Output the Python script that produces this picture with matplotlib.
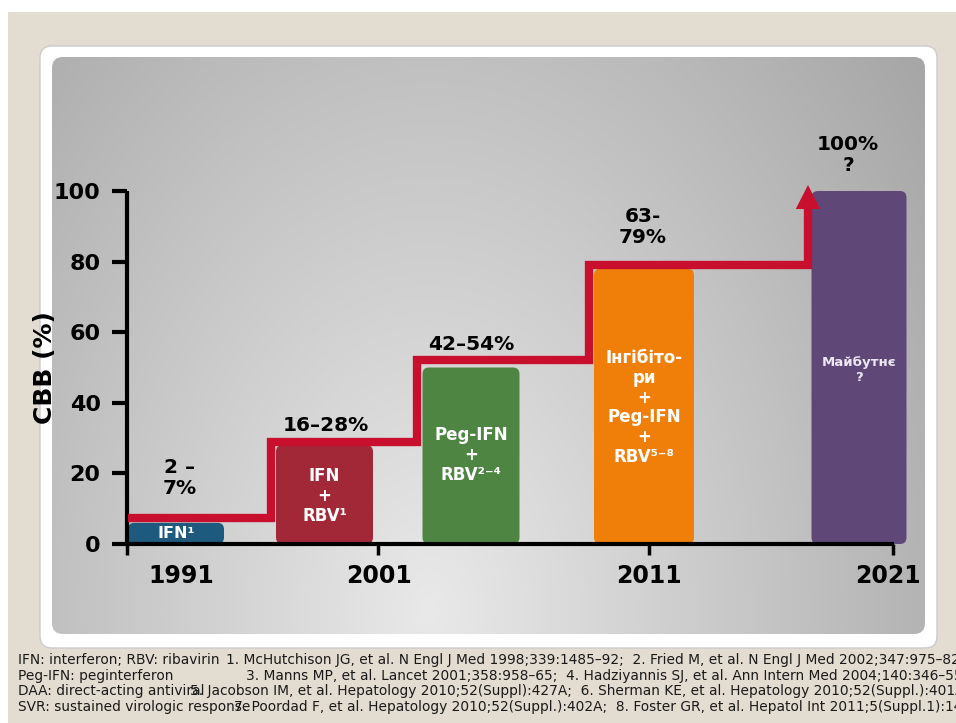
import numpy as np
import matplotlib.pyplot as plt
from matplotlib.patches import FancyBboxPatch, Rectangle

# --- data -------------------------------------------------------------
bar_labels = ['IFN¹', 'IFN\n+\nRBV¹', 'Peg-IFN\n+\nRBV²⁻⁴',
              'Інгібіто-\nри\n+\nPeg-IFN\n+\nRBV⁵⁻⁸', 'Майбутнє\n?']
bar_values = [6, 28, 50, 78, 100]
bar_colors = ['#1e5a7d', '#a22838', '#4e8543', '#f07f0a', '#5f4878']
bar_pos = [1992.96, 1998.9, 2004.76, 2011.68, 2020.28]
bar_width = [3.84, 3.88, 3.88, 4.0, 3.8]

pct_labels = ['2 –\n7%', '16–28%', '42–54%', '63-\n79%', '100%\n?']
pct_x = [1993.12, 1998.96, 2004.76, 2011.64, 2019.84]
pct_y = [18.7, 33.7, 56.4, 89.8, 110.2]

# red trend line (steps)
step_x = [1991.04, 1996.76, 2002.6, 2009.48, 2018.24, 2018.24]
step_y = [7.5, 29, 52, 79, 79, 95.5]
arrow_tip = 101.7

years = ['1991', '2001', '2011', '2021']
year_ticks = [1991, 2001.04, 2011.88, 2021.64]
year_label_x = [1993.16, 2001.08, 2011.88, 2021.44]

notes_left = ['IFN: interferon; RBV: ribavirin',
              'Peg-IFN: peginterferon',
              'DAA: direct-acting antiviral',
              'SVR: sustained virologic response']
notes_right = ['1. McHutchison JG, et al. N Engl J Med 1998;339:1485–92;  2. Fried M, et al. N Engl J Med 2002;347:975–82;',
               '3. Manns MP, et al. Lancet 2001;358:958–65;  4. Hadziyannis SJ, et al. Ann Intern Med 2004;140:346–55;',
               '5. Jacobson IM, et al. Hepatology 2010;52(Suppl):427A;  6. Sherman KE, et al. Hepatology 2010;52(Suppl.):401A;',
               '7. Poordad F, et al. Hepatology 2010;52(Suppl.):402A;  8. Foster GR, et al. Hepatol Int 2011;5(Suppl.1):14.']

plt.rcParams['font.family'] = ['DejaVu Sans']

W, H = 956, 723
fig = plt.figure(figsize=(W / 100, H / 100), dpi=100)
fig.patch.set_facecolor('white')

# --- slide background (pixel coordinates) ------------------------------
bg = fig.add_axes([0, 0, 1, 1])
bg.axis('off')
bg.add_patch(Rectangle((8, 12), W - 8, H - 12, fc='#e3ddd1', ec='none', zorder=0))
bg.add_patch(FancyBboxPatch((40, 46), 897, 602, boxstyle='round,pad=0,rounding_size=12',
                            fc='white', ec='#cbcbcb', lw=1, zorder=1))

gx, gy = np.meshgrid(np.arange(52, 925) + 0.5, np.arange(57, 634) + 0.5)
drop = np.sqrt((0.108 * (gx - 430)) ** 2 + (0.074 * (gy - 610)) ** 2)
gray = np.clip(233 - drop, 155, 235) / 255.0
img = np.dstack([gray, gray, gray])
im = bg.imshow(img, extent=(52, 925, 634, 57), origin='upper', aspect='auto',
               interpolation='bilinear', zorder=2)
clip = FancyBboxPatch((52, 57), 873, 577, boxstyle='round,pad=0,rounding_size=11',
                      fc='none', ec='none')
bg.add_patch(clip)
im.set_clip_path(clip)
bg.set_xlim(0, W)
bg.set_ylim(H, 0)

for i, t in enumerate(notes_left):
    bg.text(18, 660 + i * 15.7, t, fontsize=9.9, va='center', ha='left', color='#1a1a1a', zorder=3)
right_x = [226, 246, 190, 234]
for i, t in enumerate(notes_right):
    bg.text(right_x[i], 660 + i * 15.7, t, fontsize=9.9, va='center', ha='left', color='#1a1a1a', zorder=3)

# --- chart axes --------------------------------------------------------
ax = fig.add_axes([127 / W, (H - 544) / H, (894 - 127) / W, (544 - 191) / H])
ax.set_facecolor('none')
ax.set_xlim(1991, 1991 + 767 / 25)
ax.set_ylim(0, 100)

for s in ['top', 'right']:
    ax.spines[s].set_visible(False)
for s in ['left', 'bottom']:
    ax.spines[s].set_linewidth(3)
    ax.spines[s].set_color('black')
    ax.spines[s].set_capstyle('butt')

ax.set_yticks(range(0, 101, 20))
ax.tick_params(axis='y', direction='out', length=11, width=3, pad=8, labelsize=16)
for lab in ax.get_yticklabels():
    lab.set_fontweight('bold')
ax.set_xticks(year_ticks)
ax.set_xticklabels([])
ax.tick_params(axis='x', direction='out', length=8, width=2.5)

for x, lab in zip(year_label_x, years):
    ax.text(x, -9.2, lab, ha='center', va='center', fontsize=17, fontweight='bold', clip_on=False)

ax.set_ylabel('CBB (%)', fontsize=18, fontweight='bold')
ax.yaxis.set_label_coords(-70 / 767, (544 - 368) / 353)

# bars with rounded corners
aspect = 25 / 3.53
for c, w, v, col in zip(bar_pos, bar_width, bar_values, bar_colors):
    ax.add_patch(FancyBboxPatch((c - w / 2, 0), w, v,
                                boxstyle='round,pad=0,rounding_size=0.26',
                                mutation_aspect=aspect, fc=col, ec='none',
                                clip_on=False, zorder=1))

label_y = [3.1, 13.6, 25.2, 38.7, 49.3]
label_fs = [11.5, 12, 12, 12, 9.5]
label_col = ['white', 'white', 'white', 'white', '#ece6f2']
for c, y, lab, fs, col in zip(bar_pos, label_y, bar_labels, label_fs, label_col):
    ax.text(c, y, lab, ha='center', va='center', fontsize=fs, fontweight='bold',
            color=col, linespacing=1.12, zorder=4)

for x, y, lab in zip(pct_x, pct_y, pct_labels):
    ax.text(x, y, lab, ha='center', va='center', fontsize=14.5, fontweight='bold',
            color='black', linespacing=1.1, clip_on=False, zorder=4)

# red step line with arrow head
red = '#c8102e'
ax.plot(step_x, step_y, drawstyle='steps-post', color=red, lw=6,
        solid_joinstyle='miter', solid_capstyle='butt', clip_on=False, zorder=3)
hx = step_x[-1]
ax.fill([hx - 0.49, hx + 0.49, hx], [94.9, 94.9, arrow_tip], color=red,
        clip_on=False, zorder=3, lw=0)

fig.savefig('out.png', dpi=100)
